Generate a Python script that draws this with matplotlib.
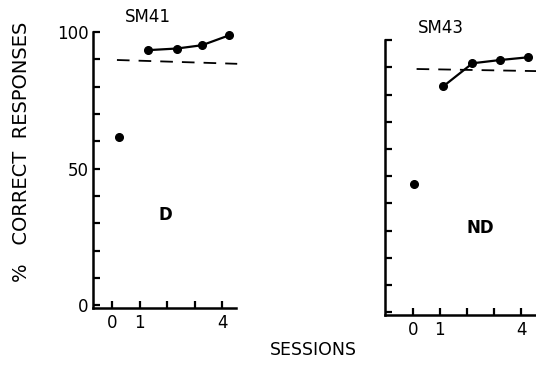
import matplotlib
matplotlib.use("Agg")
import matplotlib.pyplot as plt

# session positions and % correct
sm41_pre_x = [0.25]
sm41_pre_y = [61.5]
sm41_x = [1.31, 2.36, 3.27, 4.25]
sm41_y = [93.4, 94.0, 95.2, 98.8]
sm41_crit_x = [0.18, 4.55]
sm41_crit_y = [89.8, 88.4]

sm43_pre_x = [0.05]
sm43_pre_y = [47.0]
sm43_x = [1.12, 2.2, 3.22, 4.25]
sm43_y = [83.0, 91.5, 92.7, 93.7]
sm43_crit_x = [0.14, 4.7]
sm43_crit_y = [89.4, 88.6]

session_ticks = [0, 1, 2, 3, 4]
session_labels = ["0", "1", "", "", "4"]
pct_ticks = list(range(0, 101, 10))
pct_labels = ["0", "", "", "", "", "50", "", "", "", "", "100"]

plt.rcParams["font.family"] = "DejaVu Sans"

fig = plt.figure(figsize=(5.36, 3.65), dpi=100)
ax1 = fig.add_axes([0.1735, 0.156, 0.267, 0.756])
ax2 = fig.add_axes([0.718, 0.137, 0.285, 0.753])


def style_axis(ax, xlim, show_ylabels):
    for side in ["top", "right"]:
        ax.spines[side].set_visible(False)
    for side in ["left", "bottom"]:
        ax.spines[side].set_linewidth(1.8)
    ax.set_xlim(*xlim)
    ax.set_ylim(-1, 100)
    ax.set_xticks(session_ticks)
    ax.set_xticklabels(session_labels, fontsize=12)
    ax.set_yticks(pct_ticks)
    if show_ylabels:
        ax.set_yticklabels(pct_labels, fontsize=12)
    else:
        ax.set_yticklabels([])
    ax.tick_params(direction="in", length=5, width=1.6, pad=3)
    ax.tick_params(axis="x", pad=4)


def draw(ax, pre_x, pre_y, x, y, cx, cy):
    ax.plot(pre_x, pre_y, "o", color="black", markersize=5.5, clip_on=False)
    ax.plot(x, y, "-o", color="black", markersize=5.5, linewidth=1.6, clip_on=False)
    ax.plot(cx, cy, "--", color="black", linewidth=1.3, dashes=(7, 5), clip_on=False)


style_axis(ax1, (-0.69, 4.51), True)
draw(ax1, sm41_pre_x, sm41_pre_y, sm41_x, sm41_y, sm41_crit_x, sm41_crit_y)
ax1.set_title("SM41", fontsize=12, pad=7, x=0.38)
ax1.text(1.95, 33, "D", fontsize=12, fontweight="bold", ha="center", va="center")

style_axis(ax2, (-1.03, 4.6), False)
draw(ax2, sm43_pre_x, sm43_pre_y, sm43_x, sm43_y, sm43_crit_x, sm43_crit_y)
ax2.set_title("SM43", fontsize=12, pad=5, x=0.37)
ax2.text(2.5, 31, "ND", fontsize=12, fontweight="bold", ha="center", va="center")

fig.text(0.04, 0.584, "%   CORRECT  RESPONSES", rotation=90, fontsize=14,
         ha="center", va="center")
fig.text(0.584, 0.04, "SESSIONS", fontsize=12.5, ha="center", va="center")

fig.savefig("out.png", dpi=100)
